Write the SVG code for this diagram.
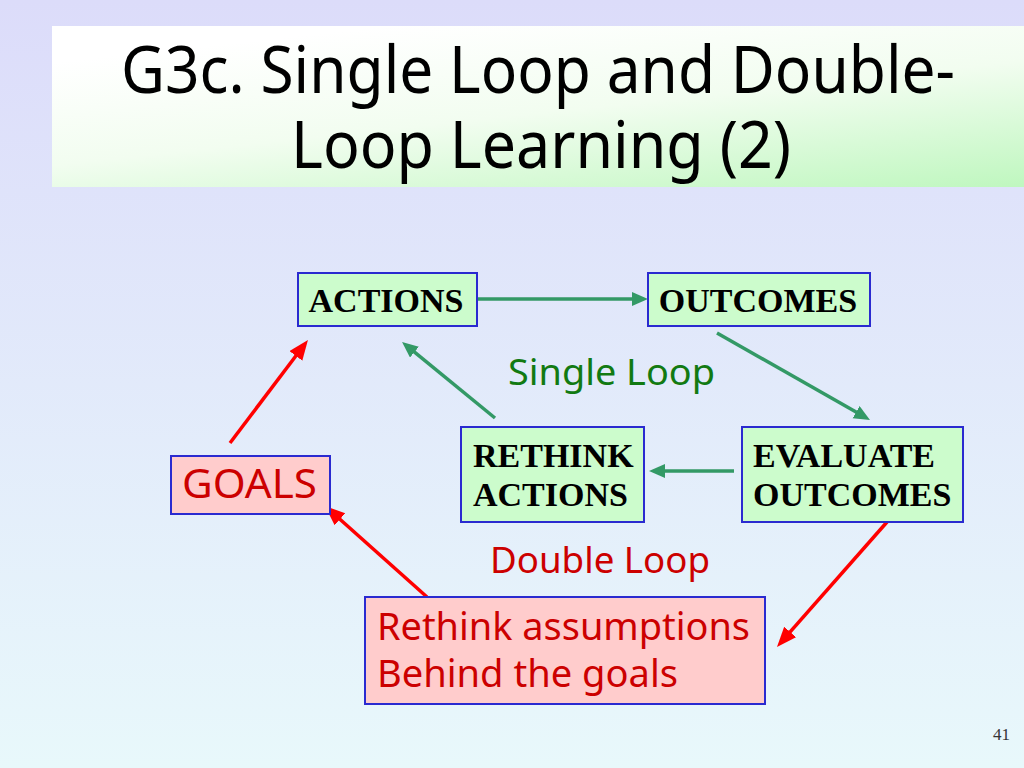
<svg xmlns="http://www.w3.org/2000/svg" width="1024" height="768" viewBox="0 0 1024 768">
  <defs>
    <linearGradient id="bg" x1="0" y1="0" x2="0" y2="1">
      <stop offset="0" stop-color="#dcdcfa"/>
      <stop offset="1" stop-color="#e8f8fb"/>
    </linearGradient>
    <linearGradient id="titlebg" x1="0.35" y1="0" x2="1" y2="1">
      <stop offset="0" stop-color="#ffffff"/>
      <stop offset="0.45" stop-color="#f2fdf0"/>
      <stop offset="1" stop-color="#bff7bf"/>
    </linearGradient>
    <marker id="gh" markerUnits="userSpaceOnUse" markerWidth="18" markerHeight="16" refX="3" refY="7" orient="auto">
      <path d="M0,0 L16,7 L0,14 z" fill="#339966"/>
    </marker>
    <marker id="rh" markerUnits="userSpaceOnUse" markerWidth="22" markerHeight="18" refX="3" refY="8" orient="auto">
      <path d="M0,0 L20,8 L0,16 z" fill="#ff0000"/>
    </marker>
  </defs>
  <style>
    .gbox { fill: #ccfccc; stroke: #2a2ad0; stroke-width: 2; }
    .pbox { fill: #ffcccc; stroke: #2a2ad0; stroke-width: 2; }
    .node { font-family: "Liberation Serif", "Times New Roman", serif; font-weight: bold; font-size: 34px; fill: #000; }
    .comic { font-family: "Noto Sans", "DejaVu Sans", sans-serif; }
    .red { fill: #cc0000; }
    .garrow { stroke: #339966; stroke-width: 3.5; fill: none; marker-end: url(#gh); }
    .rarrow { stroke: #ff0000; stroke-width: 3.5; fill: none; marker-end: url(#rh); }
  </style>

  <rect x="0" y="0" width="1024" height="768" fill="url(#bg)"/>

  <g id="title">
    <rect x="52" y="26" width="972" height="161" fill="url(#titlebg)"/>
    <text class="comic" x="121" y="93" font-size="66" fill="#000" textLength="834" lengthAdjust="spacingAndGlyphs">G3c. Single Loop and Double-</text>
    <text class="comic" x="291" y="168" font-size="66" fill="#000" textLength="500" lengthAdjust="spacingAndGlyphs">Loop Learning (2)</text>
  </g>

  <g id="connectors">
    <line class="garrow" x1="477" y1="299" x2="635" y2="299"/>
    <line class="garrow" x1="717" y1="333" x2="858.7" y2="413.6"/>
    <line class="garrow" x1="734" y1="471" x2="662" y2="471"/>
    <line class="garrow" x1="495" y1="418" x2="412.1" y2="350.2"/>
    <line class="rarrow" x1="230" y1="443" x2="297.7" y2="353.5"/>
    <line class="rarrow" x1="427" y1="597" x2="337.7" y2="517.3"/>
    <line class="rarrow" x1="887" y1="522" x2="788.2" y2="634.2"/>
  </g>

  <g id="node-actions">
    <rect class="gbox" x="298" y="273" width="179" height="53"/>
    <text class="node" x="386" y="312" text-anchor="middle">ACTIONS</text>
  </g>
  <g id="node-outcomes">
    <rect class="gbox" x="648" y="273" width="222" height="53"/>
    <text class="node" x="758" y="312" text-anchor="middle">OUTCOMES</text>
  </g>
  <g id="node-rethink-actions">
    <rect class="gbox" x="461" y="427" width="183" height="95"/>
    <text class="node" x="473" y="467">RETHINK</text>
    <text class="node" x="473" y="506">ACTIONS</text>
  </g>
  <g id="node-evaluate-outcomes">
    <rect class="gbox" x="742" y="427" width="221" height="95"/>
    <text class="node" x="753" y="467">EVALUATE</text>
    <text class="node" x="753" y="506">OUTCOMES</text>
  </g>
  <g id="node-goals">
    <rect class="pbox" x="171" y="456" width="159" height="58"/>
    <text class="comic red" x="182" y="498" font-size="40" textLength="135" lengthAdjust="spacingAndGlyphs">GOALS</text>
  </g>
  <g id="node-rethink-assumptions">
    <rect class="pbox" x="365" y="597" width="400" height="107"/>
    <text class="comic red" x="377" y="640" font-size="38" textLength="373" lengthAdjust="spacingAndGlyphs">Rethink assumptions</text>
    <text class="comic red" x="377" y="687" font-size="38" textLength="301" lengthAdjust="spacingAndGlyphs">Behind the goals</text>
  </g>

  <g id="labels">
    <text class="comic" x="508" y="385" font-size="37" fill="#127a12" textLength="207" lengthAdjust="spacingAndGlyphs">Single Loop</text>
    <text class="comic red" x="490" y="573" font-size="37" textLength="220" lengthAdjust="spacingAndGlyphs">Double Loop</text>
    <text x="993" y="740" font-family="Liberation Serif, serif" font-size="17" fill="#333">41</text>
  </g>
</svg>
